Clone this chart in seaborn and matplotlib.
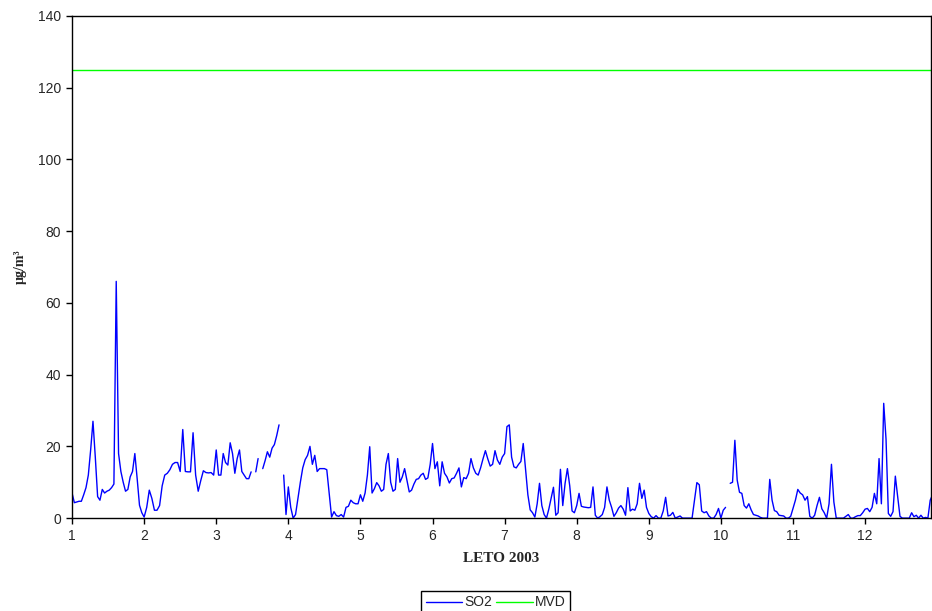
import numpy as np
import pandas as pd
import seaborn as sns
import matplotlib.pyplot as plt

nan = np.nan

# dnevne vrednosti SO2 po mesecih (ug/m3), odčitane s slike
dni = [31, 28, 31, 30, 31, 30, 31, 31, 30, 31, 30, 31]
jan = [7, 4.3, 4.5, 4.7, 4.7, 6.5, 8.5, 12, 19, 27, 17, 6, 5, 8, 7, 7.5, 7.8, 8.5, 9.5, 66,
       18, 13, 10, 7.5, 8, 11.5, 13, 18, 11, 3.6, 1.5]
feb = [0.3, 3, 7.8, 5.5, 2.2, 2.2, 3.5, 9, 12, 12.5, 13.5, 15, 15.5, 15.5, 13, 24.7, 13, 12.9,
       12.9, 23.8, 12, 7.5, 10.5, 13.2, 12.7, 12.6, 12.7, 12]
mar = [19, 12, 12, 18, 15.5, 14.8, 21, 18, 12.5, 16.6, 19, 13, 12, 11, 11, 12.9, nan, 12.9,
       16.6, nan, 13.8, 16, 18.5, 17, 19.5, 20.5, 23, 26, nan, 12, 1]
apr = [8.7, 3, 0, 1, 5.5, 10, 14, 16.3, 17.5, 20, 15, 17.5, 13, 13.8, 13.8, 13.8, 13.5, 7,
       0.3, 1.8, 0.7, 0.5, 1, 0.3, 3, 3.3, 5, 4.3, 4, 4]
maj = [6.5, 4.7, 7, 12, 19.9, 7, 8.2, 9.9, 9, 7.5, 8, 15, 18, 10, 7.5, 8, 16.6, 10, 11.5,
       13.8, 10.5, 7.3, 7.8, 9.5, 10.8, 11, 12, 12.5, 10.8, 11.2, 15]
jun = [20.8, 13.8, 15.7, 9, 15.7, 12.5, 11.5, 9.8, 11, 11.2, 12.5, 14, 8.7, 11.3, 11, 12.5,
       16.6, 14, 12.5, 12, 14, 16.5, 18.8, 16.5, 14.5, 15, 18.8, 16.2, 15, 17]
jul = [18, 25.5, 26, 17, 14.3, 14, 15, 15.8, 20.8, 13.5, 6.5, 2.3, 1.5, 0.3, 4, 9.7, 3.5, 1,
       0, 2.5, 5.5, 8.6, 0.8, 1.5, 13.6, 3.5, 9.7, 13.8, 9, 2, 1.5]
avg = [3.5, 6.9, 3.3, 3.1, 3, 2.9, 3, 8.7, 0.8, 0, 0.4, 1, 3, 8.7, 5, 3, 0.5, 1.5, 2.8, 3.5,
       2.5, 0.8, 8.5, 2, 2.5, 2.2, 4, 9.7, 5.5, 7.8, 3]
sep = [1.3, 0.4, 0, 0.7, 0, 0, 2, 5.8, 0.6, 0.8, 1.6, 0, 0.3, 0.6, 0, 0, 0, 0, 0, 5, 9.9,
       9.3, 2, 1.5, 1.8, 0.6, 0, 0, 1, 2.7]
okt = [0, 2.2, 3, nan, 9.7, 10, 21.7, 10.6, 7.2, 6.9, 3.5, 2.8, 4, 2.3, 1, 0.8, 0.6, 0.2, 0,
       0, 0, 10.8, 5, 2.1, 1.8, 0.8, 0.7, 0.6, 0, 0, 0.5]
nov = [2.7, 5, 8, 7, 6.5, 5, 6, 0.5, 0, 0.8, 3.5, 5.8, 2.6, 1.5, 0, 4, 15, 4.5, 0, 0, 0, 0,
       0.5, 1, 0, 0, 0.4, 0.7, 0.7, 1.5]
dec = [2.5, 2.7, 1.8, 3, 6.9, 4, 16.6, 4, 32, 22, 1.3, 0.5, 1.8, 11.7, 6, 0.5, 0, 0, 0, 0,
       1.5, 0.4, 0.8, 0, 0.8, 0, 0.2, 0, 5, 6.5]
mvd = 125  # mejna vrednost

meseci = [jan, feb, mar, apr, maj, jun, jul, avg, sep, okt, nov, dec]
rows = []
for m, vals in enumerate(meseci, start=1):
    for d, v in enumerate(vals):
        rows.append((m + d / dni[m - 1], v))
df = pd.DataFrame(rows, columns=['x', 'SO2'])
df['MVD'] = mvd
df['seg'] = df['SO2'].isna().cumsum()  # prekinitve v podatkih
so2 = df.dropna()

sns.set_style('white')
plt.rcParams['font.family'] = ['Liberation Sans', 'DejaVu Sans']

fig = plt.figure(figsize=(9.32, 6.11), dpi=100)
ax = fig.add_axes([0.0773, 0.152, 0.9217, 0.822])

sns.lineplot(data=so2, x='x', y='SO2', units='seg', estimator=None,
             color='#0000ff', lw=1, ax=ax, label='SO2')
sns.lineplot(data=df, x='x', y='MVD', color='#00ff00', lw=1, ax=ax, label='MVD')

ax.set_xlim(1, 12.915)
ax.set_ylim(0, 140)
ax.set_xticks(range(1, 13))
ax.set_yticks(range(0, 141, 20))
ax.tick_params(bottom=True, left=True, direction='out', length=4, width=1,
               color='black', labelsize=10, pad=4)
for s in ax.spines.values():
    s.set_color('black')
    s.set_linewidth(1)

ax.set_xlabel('LETO 2003', family='Liberation Serif', fontweight='bold',
              fontsize=11, labelpad=6)
ax.set_ylabel('µg/m³', family='Liberation Serif', fontweight='bold',
              fontsize=10, labelpad=8)

h, l = ax.get_legend_handles_labels()
uniq = dict(zip(l, h))
ax.get_legend().remove()
fig.legend(list(uniq.values()), list(uniq.keys()), loc='center',
           bbox_to_anchor=(0.532, 0.014), ncol=2, frameon=True, fancybox=False,
           edgecolor='black', framealpha=1, fontsize=10, handlelength=2.6,
           handletextpad=0.2, columnspacing=0.3, borderpad=0.3)

fig.savefig('out.png', dpi=100)
